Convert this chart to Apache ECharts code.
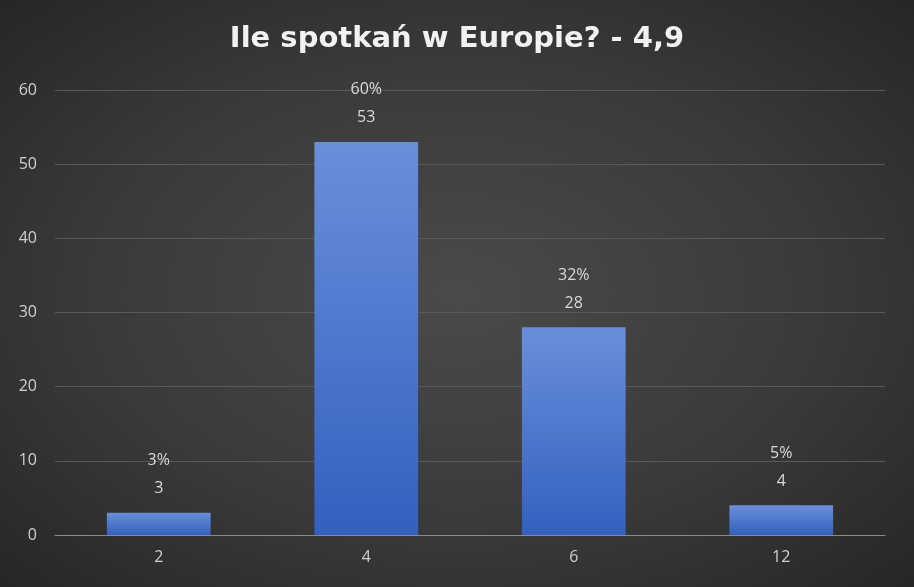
<!DOCTYPE html>
<html><head><meta charset="utf-8">
<script src="https://cdn.jsdelivr.net/npm/echarts@6/dist/echarts.min.js"></script>
<style>html,body{margin:0;padding:0;}#c{width:914px;height:587px;background:radial-gradient(ellipse at center,#4a4a4a 0%,#3a3a3a 55%,#262626 100%);}</style>
</head><body><div id="c"></div>
<script>
const categories = ['2','4','6','12'];
const counts = [3,53,28,4];
const percents = ['3%','60%','32%','5%'];
const yTicks = [0,10,20,30,40,50,60];
const chart = echarts.init(document.getElementById('c'));
chart.setOption({
  title:{text:'Ile spotkań w Europie? - 4,9',left:'center',top:20,textStyle:{color:'#f2f2f2',fontSize:29,fontWeight:'bold',fontFamily:'DejaVu Sans'}},
  grid:{left:55,right:29,top:90,bottom:52},
  xAxis:{type:'category',data:categories,axisTick:{show:false},axisLine:{lineStyle:{color:'#8a8a8a'}},axisLabel:{color:'#d0d0d0',fontSize:16,margin:14,fontFamily:'Open Sans'}},
  yAxis:{type:'value',min:yTicks[0],max:yTicks[yTicks.length-1],interval:10,axisLabel:{color:'#d0d0d0',fontSize:16,margin:18,fontFamily:'Open Sans'},splitLine:{lineStyle:{color:'#595959'}},axisLine:{show:false}},
  series:[{type:'bar',barWidth:'50%',data:counts,
    itemStyle:{color:new echarts.graphic.LinearGradient(0,0,0,1,[{offset:0,color:'#6a8fd9'},{offset:1,color:'#3360c0'}])},
    label:{show:true,position:'top',distance:10,color:'#d9d9d9',fontSize:16,lineHeight:28,fontFamily:'Open Sans',
      formatter:p=>percents[p.dataIndex]+'\n'+p.value}}]
});
</script></body></html>
